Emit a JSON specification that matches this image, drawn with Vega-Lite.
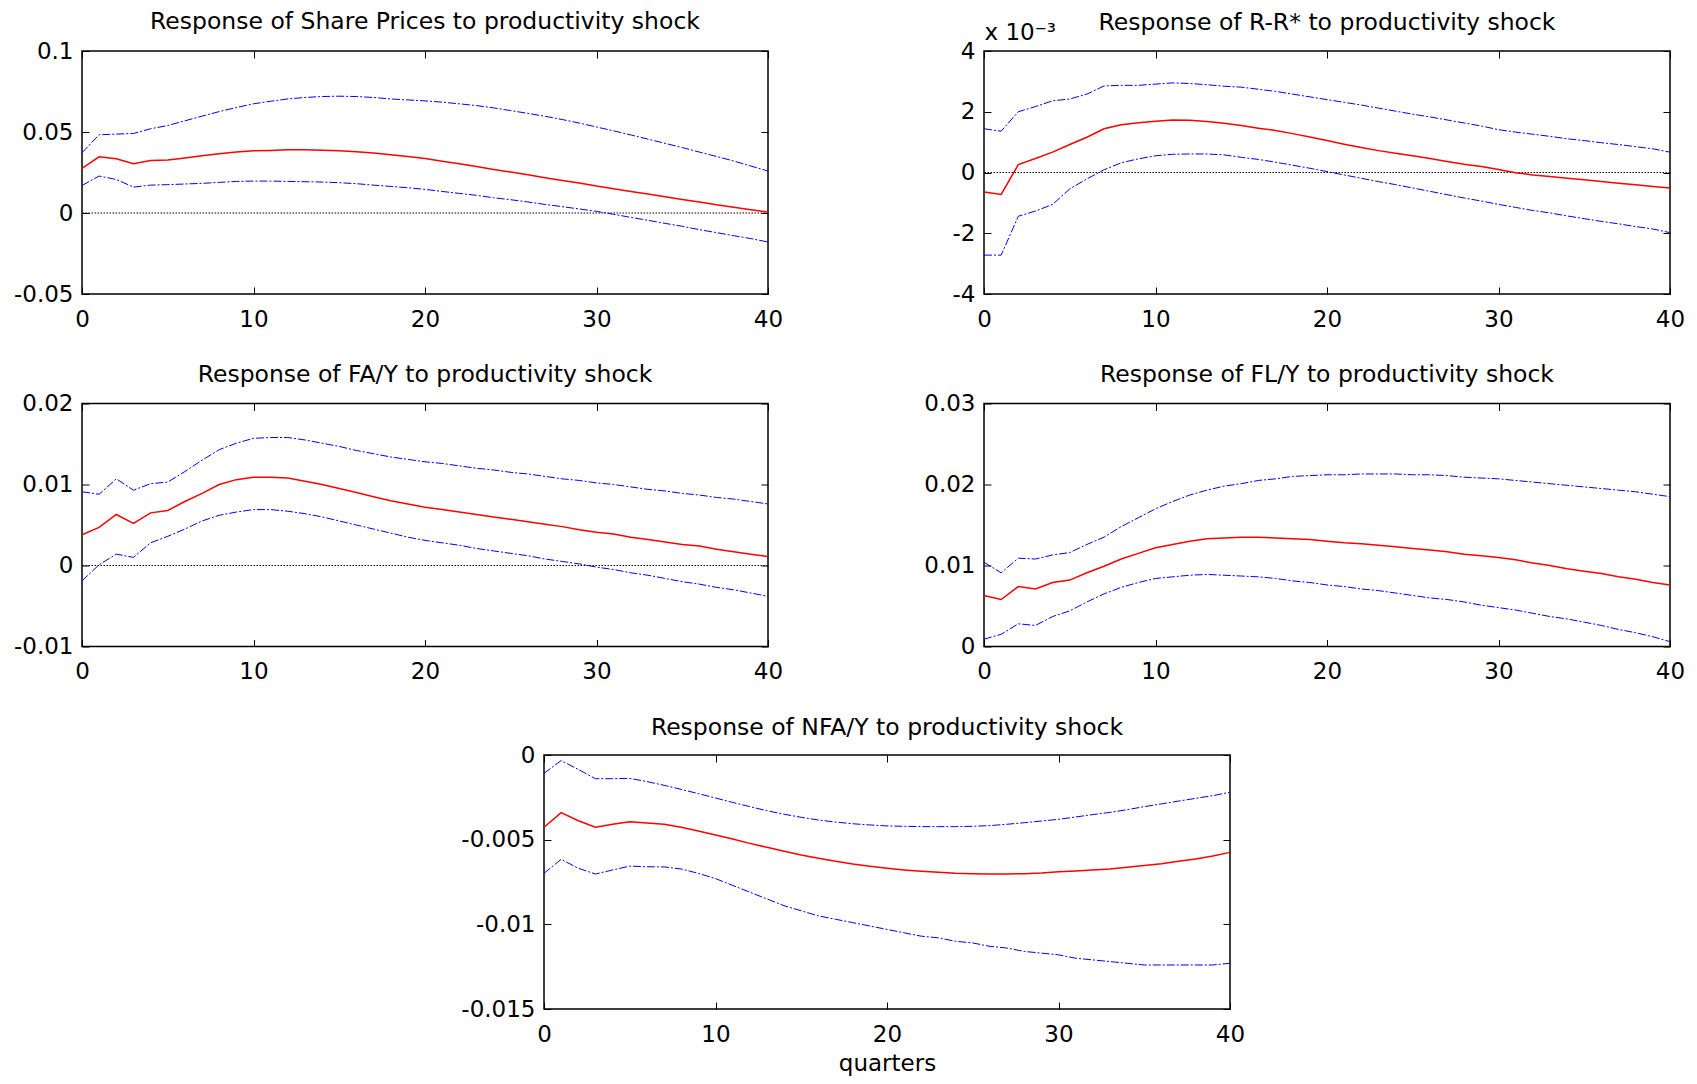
{
"$schema": "https://vega.github.io/schema/vega-lite/v6.json",
"background": "white",
"padding": {"left": 12, "top": 9, "right": 5, "bottom": 5},
"config": {
  "font": "DejaVu Sans",
  "view": {"stroke": "black", "strokeWidth": 1.5},
  "axis": {"domain": false, "grid": false, "tickColor": "black", "tickSize": -7, "tickWidth": 1, "labelFont": "DejaVu Sans", "labelFontSize": 23, "labelColor": "black", "labelFlush": false, "labelOverlap": false, "titleFont": "DejaVu Sans", "titleFontSize": 23, "titleFontWeight": "normal", "titleColor": "black"},
  "axisX": {"labelPadding": 21},
  "axisY": {"labelPadding": 16},
  "title": {"font": "DejaVu Sans", "fontSize": 23.5, "fontWeight": "normal", "color": "black", "offset": 6.5, "baseline": "alphabetic", "frame": "group"}
},
"data": {"values": [
{"p":1,"x":0,"lo":0.0170,"mid":0.0275,"hi":0.0372},
{"p":1,"x":1,"lo":0.0228,"mid":0.0347,"hi":0.0483},
{"p":1,"x":2,"lo":0.0207,"mid":0.0335,"hi":0.0487},
{"p":1,"x":3,"lo":0.0160,"mid":0.0304,"hi":0.0491},
{"p":1,"x":4,"lo":0.0172,"mid":0.0324,"hi":0.0520},
{"p":1,"x":5,"lo":0.0175,"mid":0.0327,"hi":0.0540},
{"p":1,"x":6,"lo":0.0179,"mid":0.0339,"hi":0.0569},
{"p":1,"x":7,"lo":0.0183,"mid":0.0353,"hi":0.0598},
{"p":1,"x":8,"lo":0.0189,"mid":0.0366,"hi":0.0626},
{"p":1,"x":9,"lo":0.0195,"mid":0.0376,"hi":0.0651},
{"p":1,"x":10,"lo":0.0197,"mid":0.0384,"hi":0.0674},
{"p":1,"x":11,"lo":0.0197,"mid":0.0386,"hi":0.0690},
{"p":1,"x":12,"lo":0.0195,"mid":0.0390,"hi":0.0704},
{"p":1,"x":13,"lo":0.0193,"mid":0.0390,"hi":0.0713},
{"p":1,"x":14,"lo":0.0191,"mid":0.0388,"hi":0.0719},
{"p":1,"x":15,"lo":0.0187,"mid":0.0384,"hi":0.0721},
{"p":1,"x":16,"lo":0.0181,"mid":0.0378,"hi":0.0719},
{"p":1,"x":17,"lo":0.0172,"mid":0.0370,"hi":0.0713},
{"p":1,"x":18,"lo":0.0164,"mid":0.0359,"hi":0.0704},
{"p":1,"x":19,"lo":0.0156,"mid":0.0349,"hi":0.0698},
{"p":1,"x":20,"lo":0.0146,"mid":0.0337,"hi":0.0692},
{"p":1,"x":21,"lo":0.0133,"mid":0.0320,"hi":0.0684},
{"p":1,"x":22,"lo":0.0121,"mid":0.0304,"hi":0.0674},
{"p":1,"x":23,"lo":0.0109,"mid":0.0287,"hi":0.0663},
{"p":1,"x":24,"lo":0.0094,"mid":0.0269,"hi":0.0649},
{"p":1,"x":25,"lo":0.0082,"mid":0.0253,"hi":0.0632},
{"p":1,"x":26,"lo":0.0068,"mid":0.0236,"hi":0.0615},
{"p":1,"x":27,"lo":0.0053,"mid":0.0218,"hi":0.0597},
{"p":1,"x":28,"lo":0.0039,"mid":0.0201,"hi":0.0577},
{"p":1,"x":29,"lo":0.0025,"mid":0.0185,"hi":0.0555},
{"p":1,"x":30,"lo":0.0010,"mid":0.0166,"hi":0.0531},
{"p":1,"x":31,"lo":-0.0008,"mid":0.0150,"hi":0.0507},
{"p":1,"x":32,"lo":-0.0027,"mid":0.0133,"hi":0.0482},
{"p":1,"x":33,"lo":-0.0045,"mid":0.0117,"hi":0.0456},
{"p":1,"x":34,"lo":-0.0064,"mid":0.0100,"hi":0.0430},
{"p":1,"x":35,"lo":-0.0082,"mid":0.0084,"hi":0.0404},
{"p":1,"x":36,"lo":-0.0103,"mid":0.0068,"hi":0.0376},
{"p":1,"x":37,"lo":-0.0121,"mid":0.0051,"hi":0.0349},
{"p":1,"x":38,"lo":-0.0140,"mid":0.0035,"hi":0.0321},
{"p":1,"x":39,"lo":-0.0158,"mid":0.0020,"hi":0.0290},
{"p":1,"x":40,"lo":-0.0179,"mid":0.0006,"hi":0.0259},
{"p":2,"x":0,"lo":-2.72,"mid":-0.64,"hi":1.44},
{"p":2,"x":1,"lo":-2.72,"mid":-0.72,"hi":1.36},
{"p":2,"x":2,"lo":-1.44,"mid":0.26,"hi":2.00},
{"p":2,"x":3,"lo":-1.27,"mid":0.46,"hi":2.17},
{"p":2,"x":4,"lo":-1.05,"mid":0.67,"hi":2.36},
{"p":2,"x":5,"lo":-0.54,"mid":0.92,"hi":2.42},
{"p":2,"x":6,"lo":-0.21,"mid":1.16,"hi":2.58},
{"p":2,"x":7,"lo":0.09,"mid":1.44,"hi":2.85},
{"p":2,"x":8,"lo":0.32,"mid":1.57,"hi":2.87},
{"p":2,"x":9,"lo":0.45,"mid":1.64,"hi":2.87},
{"p":2,"x":10,"lo":0.55,"mid":1.69,"hi":2.91},
{"p":2,"x":11,"lo":0.60,"mid":1.73,"hi":2.95},
{"p":2,"x":12,"lo":0.61,"mid":1.72,"hi":2.93},
{"p":2,"x":13,"lo":0.61,"mid":1.68,"hi":2.89},
{"p":2,"x":14,"lo":0.58,"mid":1.62,"hi":2.84},
{"p":2,"x":15,"lo":0.50,"mid":1.55,"hi":2.81},
{"p":2,"x":16,"lo":0.43,"mid":1.46,"hi":2.74},
{"p":2,"x":17,"lo":0.34,"mid":1.38,"hi":2.67},
{"p":2,"x":18,"lo":0.24,"mid":1.28,"hi":2.58},
{"p":2,"x":19,"lo":0.14,"mid":1.17,"hi":2.49},
{"p":2,"x":20,"lo":0.03,"mid":1.05,"hi":2.40},
{"p":2,"x":21,"lo":-0.08,"mid":0.93,"hi":2.31},
{"p":2,"x":22,"lo":-0.19,"mid":0.82,"hi":2.22},
{"p":2,"x":23,"lo":-0.30,"mid":0.72,"hi":2.12},
{"p":2,"x":24,"lo":-0.40,"mid":0.63,"hi":2.02},
{"p":2,"x":25,"lo":-0.51,"mid":0.55,"hi":1.92},
{"p":2,"x":26,"lo":-0.62,"mid":0.46,"hi":1.83},
{"p":2,"x":27,"lo":-0.73,"mid":0.36,"hi":1.73},
{"p":2,"x":28,"lo":-0.84,"mid":0.27,"hi":1.63},
{"p":2,"x":29,"lo":-0.94,"mid":0.20,"hi":1.53},
{"p":2,"x":30,"lo":-1.05,"mid":0.10,"hi":1.41},
{"p":2,"x":31,"lo":-1.15,"mid":-0.01,"hi":1.33},
{"p":2,"x":32,"lo":-1.25,"mid":-0.08,"hi":1.26},
{"p":2,"x":33,"lo":-1.33,"mid":-0.13,"hi":1.19},
{"p":2,"x":34,"lo":-1.43,"mid":-0.19,"hi":1.11},
{"p":2,"x":35,"lo":-1.52,"mid":-0.24,"hi":1.05},
{"p":2,"x":36,"lo":-1.61,"mid":-0.30,"hi":0.98},
{"p":2,"x":37,"lo":-1.69,"mid":-0.35,"hi":0.92},
{"p":2,"x":38,"lo":-1.78,"mid":-0.40,"hi":0.85},
{"p":2,"x":39,"lo":-1.86,"mid":-0.46,"hi":0.78},
{"p":2,"x":40,"lo":-1.98,"mid":-0.51,"hi":0.67},
{"p":3,"x":0,"lo":-0.0019,"mid":0.0038,"hi":0.0091},
{"p":3,"x":1,"lo":0.0001,"mid":0.0047,"hi":0.0088},
{"p":3,"x":2,"lo":0.0014,"mid":0.0063,"hi":0.0107},
{"p":3,"x":3,"lo":0.0010,"mid":0.0052,"hi":0.0093},
{"p":3,"x":4,"lo":0.0028,"mid":0.0065,"hi":0.0101},
{"p":3,"x":5,"lo":0.0036,"mid":0.0068,"hi":0.0103},
{"p":3,"x":6,"lo":0.0045,"mid":0.0079,"hi":0.0116},
{"p":3,"x":7,"lo":0.0055,"mid":0.0089,"hi":0.0130},
{"p":3,"x":8,"lo":0.0062,"mid":0.0100,"hi":0.0143},
{"p":3,"x":9,"lo":0.0066,"mid":0.0106,"hi":0.0151},
{"p":3,"x":10,"lo":0.0069,"mid":0.0109,"hi":0.0157},
{"p":3,"x":11,"lo":0.0069,"mid":0.0109,"hi":0.0158},
{"p":3,"x":12,"lo":0.0067,"mid":0.0108,"hi":0.0158},
{"p":3,"x":13,"lo":0.0064,"mid":0.0104,"hi":0.0155},
{"p":3,"x":14,"lo":0.0060,"mid":0.0100,"hi":0.0151},
{"p":3,"x":15,"lo":0.0055,"mid":0.0095,"hi":0.0147},
{"p":3,"x":16,"lo":0.0050,"mid":0.0090,"hi":0.0142},
{"p":3,"x":17,"lo":0.0045,"mid":0.0085,"hi":0.0138},
{"p":3,"x":18,"lo":0.0040,"mid":0.0080,"hi":0.0134},
{"p":3,"x":19,"lo":0.0035,"mid":0.0076,"hi":0.0131},
{"p":3,"x":20,"lo":0.0031,"mid":0.0072,"hi":0.0128},
{"p":3,"x":21,"lo":0.0028,"mid":0.0069,"hi":0.0126},
{"p":3,"x":22,"lo":0.0025,"mid":0.0066,"hi":0.0123},
{"p":3,"x":23,"lo":0.0021,"mid":0.0063,"hi":0.0120},
{"p":3,"x":24,"lo":0.0018,"mid":0.0060,"hi":0.0118},
{"p":3,"x":25,"lo":0.0015,"mid":0.0057,"hi":0.0115},
{"p":3,"x":26,"lo":0.0012,"mid":0.0054,"hi":0.0113},
{"p":3,"x":27,"lo":0.0008,"mid":0.0051,"hi":0.0110},
{"p":3,"x":28,"lo":0.0005,"mid":0.0048,"hi":0.0107},
{"p":3,"x":29,"lo":0.0002,"mid":0.0044,"hi":0.0105},
{"p":3,"x":30,"lo":-0.0002,"mid":0.0041,"hi":0.0102},
{"p":3,"x":31,"lo":-0.0005,"mid":0.0039,"hi":0.0100},
{"p":3,"x":32,"lo":-0.0009,"mid":0.0035,"hi":0.0097},
{"p":3,"x":33,"lo":-0.0012,"mid":0.0032,"hi":0.0094},
{"p":3,"x":34,"lo":-0.0016,"mid":0.0029,"hi":0.0092},
{"p":3,"x":35,"lo":-0.0020,"mid":0.0026,"hi":0.0089},
{"p":3,"x":36,"lo":-0.0023,"mid":0.0024,"hi":0.0087},
{"p":3,"x":37,"lo":-0.0027,"mid":0.0020,"hi":0.0084},
{"p":3,"x":38,"lo":-0.0030,"mid":0.0017,"hi":0.0082},
{"p":3,"x":39,"lo":-0.0034,"mid":0.0014,"hi":0.0079},
{"p":3,"x":40,"lo":-0.0038,"mid":0.0011,"hi":0.0076},
{"p":4,"x":0,"lo":0.0009,"mid":0.0063,"hi":0.0104},
{"p":4,"x":1,"lo":0.0015,"mid":0.0058,"hi":0.0091},
{"p":4,"x":2,"lo":0.0028,"mid":0.0074,"hi":0.0109},
{"p":4,"x":3,"lo":0.0026,"mid":0.0071,"hi":0.0108},
{"p":4,"x":4,"lo":0.0037,"mid":0.0079,"hi":0.0113},
{"p":4,"x":5,"lo":0.0044,"mid":0.0082,"hi":0.0116},
{"p":4,"x":6,"lo":0.0055,"mid":0.0091,"hi":0.0126},
{"p":4,"x":7,"lo":0.0065,"mid":0.0099,"hi":0.0135},
{"p":4,"x":8,"lo":0.0073,"mid":0.0108,"hi":0.0148},
{"p":4,"x":9,"lo":0.0079,"mid":0.0115,"hi":0.0159},
{"p":4,"x":10,"lo":0.0084,"mid":0.0122,"hi":0.0170},
{"p":4,"x":11,"lo":0.0086,"mid":0.0126,"hi":0.0179},
{"p":4,"x":12,"lo":0.0088,"mid":0.0130,"hi":0.0187},
{"p":4,"x":13,"lo":0.0089,"mid":0.0133,"hi":0.0193},
{"p":4,"x":14,"lo":0.0088,"mid":0.0134,"hi":0.0198},
{"p":4,"x":15,"lo":0.0087,"mid":0.0135,"hi":0.0201},
{"p":4,"x":16,"lo":0.0086,"mid":0.0135,"hi":0.0205},
{"p":4,"x":17,"lo":0.0084,"mid":0.0134,"hi":0.0207},
{"p":4,"x":18,"lo":0.0081,"mid":0.0133,"hi":0.0210},
{"p":4,"x":19,"lo":0.0079,"mid":0.0132,"hi":0.0211},
{"p":4,"x":20,"lo":0.0076,"mid":0.0130,"hi":0.0212},
{"p":4,"x":21,"lo":0.0074,"mid":0.0128,"hi":0.0212},
{"p":4,"x":22,"lo":0.0071,"mid":0.0127,"hi":0.0213},
{"p":4,"x":23,"lo":0.0069,"mid":0.0125,"hi":0.0213},
{"p":4,"x":24,"lo":0.0066,"mid":0.0123,"hi":0.0213},
{"p":4,"x":25,"lo":0.0063,"mid":0.0121,"hi":0.0212},
{"p":4,"x":26,"lo":0.0060,"mid":0.0119,"hi":0.0212},
{"p":4,"x":27,"lo":0.0058,"mid":0.0117,"hi":0.0211},
{"p":4,"x":28,"lo":0.0055,"mid":0.0114,"hi":0.0209},
{"p":4,"x":29,"lo":0.0051,"mid":0.0112,"hi":0.0208},
{"p":4,"x":30,"lo":0.0048,"mid":0.0110,"hi":0.0207},
{"p":4,"x":31,"lo":0.0045,"mid":0.0107,"hi":0.0205},
{"p":4,"x":32,"lo":0.0041,"mid":0.0103,"hi":0.0203},
{"p":4,"x":33,"lo":0.0037,"mid":0.0100,"hi":0.0201},
{"p":4,"x":34,"lo":0.0034,"mid":0.0096,"hi":0.0199},
{"p":4,"x":35,"lo":0.0030,"mid":0.0093,"hi":0.0197},
{"p":4,"x":36,"lo":0.0026,"mid":0.0090,"hi":0.0195},
{"p":4,"x":37,"lo":0.0021,"mid":0.0086,"hi":0.0193},
{"p":4,"x":38,"lo":0.0017,"mid":0.0083,"hi":0.0191},
{"p":4,"x":39,"lo":0.0012,"mid":0.0079,"hi":0.0188},
{"p":4,"x":40,"lo":0.0006,"mid":0.0076,"hi":0.0185},
{"p":5,"x":0,"lo":-0.00699,"mid":-0.00427,"hi":-0.00108},
{"p":5,"x":1,"lo":-0.00616,"mid":-0.00340,"hi":-0.00033},
{"p":5,"x":2,"lo":-0.00669,"mid":-0.00388,"hi":-0.00085},
{"p":5,"x":3,"lo":-0.00703,"mid":-0.00427,"hi":-0.00140},
{"p":5,"x":4,"lo":-0.00679,"mid":-0.00409,"hi":-0.00140},
{"p":5,"x":5,"lo":-0.00656,"mid":-0.00394,"hi":-0.00138},
{"p":5,"x":6,"lo":-0.00660,"mid":-0.00402,"hi":-0.00157},
{"p":5,"x":7,"lo":-0.00661,"mid":-0.00409,"hi":-0.00179},
{"p":5,"x":8,"lo":-0.00673,"mid":-0.00427,"hi":-0.00203},
{"p":5,"x":9,"lo":-0.00699,"mid":-0.00449,"hi":-0.00228},
{"p":5,"x":10,"lo":-0.00730,"mid":-0.00472,"hi":-0.00254},
{"p":5,"x":11,"lo":-0.00770,"mid":-0.00496,"hi":-0.00280},
{"p":5,"x":12,"lo":-0.00810,"mid":-0.00522,"hi":-0.00305},
{"p":5,"x":13,"lo":-0.00850,"mid":-0.00545,"hi":-0.00329},
{"p":5,"x":14,"lo":-0.00890,"mid":-0.00569,"hi":-0.00350},
{"p":5,"x":15,"lo":-0.00920,"mid":-0.00591,"hi":-0.00368},
{"p":5,"x":16,"lo":-0.00950,"mid":-0.00610,"hi":-0.00384},
{"p":5,"x":17,"lo":-0.00970,"mid":-0.00628,"hi":-0.00396},
{"p":5,"x":18,"lo":-0.00990,"mid":-0.00644,"hi":-0.00406},
{"p":5,"x":19,"lo":-0.01010,"mid":-0.00657,"hi":-0.00413},
{"p":5,"x":20,"lo":-0.01030,"mid":-0.00669,"hi":-0.00419},
{"p":5,"x":21,"lo":-0.01050,"mid":-0.00679,"hi":-0.00421},
{"p":5,"x":22,"lo":-0.01070,"mid":-0.00687,"hi":-0.00423},
{"p":5,"x":23,"lo":-0.01080,"mid":-0.00693,"hi":-0.00423},
{"p":5,"x":24,"lo":-0.01100,"mid":-0.00699,"hi":-0.00423},
{"p":5,"x":25,"lo":-0.01110,"mid":-0.00701,"hi":-0.00421},
{"p":5,"x":26,"lo":-0.01130,"mid":-0.00703,"hi":-0.00417},
{"p":5,"x":27,"lo":-0.01140,"mid":-0.00703,"hi":-0.00409},
{"p":5,"x":28,"lo":-0.01160,"mid":-0.00701,"hi":-0.00400},
{"p":5,"x":29,"lo":-0.01170,"mid":-0.00697,"hi":-0.00390},
{"p":5,"x":30,"lo":-0.01180,"mid":-0.00689,"hi":-0.00380},
{"p":5,"x":31,"lo":-0.01200,"mid":-0.00685,"hi":-0.00366},
{"p":5,"x":32,"lo":-0.01210,"mid":-0.00679,"hi":-0.00352},
{"p":5,"x":33,"lo":-0.01220,"mid":-0.00673,"hi":-0.00339},
{"p":5,"x":34,"lo":-0.01230,"mid":-0.00663,"hi":-0.00323},
{"p":5,"x":35,"lo":-0.01240,"mid":-0.00653,"hi":-0.00305},
{"p":5,"x":36,"lo":-0.01240,"mid":-0.00642,"hi":-0.00289},
{"p":5,"x":37,"lo":-0.01240,"mid":-0.00628,"hi":-0.00272},
{"p":5,"x":38,"lo":-0.01240,"mid":-0.00614,"hi":-0.00256},
{"p":5,"x":39,"lo":-0.01240,"mid":-0.00596,"hi":-0.00240},
{"p":5,"x":40,"lo":-0.01230,"mid":-0.00575,"hi":-0.00220}
]},
"spacing": 29.5,
"vconcat": [
{"hconcat": [
{
 "width": 686, "height": 243,
 "title": {"text": "Response of Share Prices to productivity shock"},
 "layer": [
  {"data": {"values": [{}]}, "mark": {"type": "rule", "color": "black", "strokeDash": [1.5, 1.5], "strokeWidth": 1},
   "encoding": {"y": {"datum": 0, "type": "quantitative", "scale": {"domain": [-0.05, 0.1], "nice": false, "zero": false}, "axis": null}}},
  {"transform": [{"filter": "datum.p == 1"}], "mark": {"type": "line", "color": "#0000ff", "strokeWidth": 1, "strokeDash": [8, 2, 2, 2]},
   "encoding": {"x": {"field": "x", "type": "quantitative", "scale": {"domain": [0, 40], "nice": false, "zero": false}, "axis": {"orient": "bottom", "values": [0, 10, 20, 30, 40], "title": null}},
    "y": {"field": "lo", "type": "quantitative", "scale": {"domain": [-0.05, 0.1], "nice": false, "zero": false}, "axis": {"orient": "left", "values": [-0.05, 0, 0.05, 0.1], "title": null, "labelExpr": "'' + datum.value"}}}},
  {"transform": [{"filter": "datum.p == 1"}], "mark": {"type": "line", "color": "#0000ff", "strokeWidth": 1, "strokeDash": [8, 2, 2, 2]},
   "encoding": {"x": {"field": "x", "type": "quantitative", "axis": null}, "y": {"field": "hi", "type": "quantitative", "axis": null}}},
  {"transform": [{"filter": "datum.p == 1"}], "mark": {"type": "line", "color": "#ff0000", "strokeWidth": 1.5},
   "encoding": {"x": {"field": "x", "type": "quantitative", "axis": {"orient": "top", "values": [0, 10, 20, 30, 40], "labels": false, "title": null}},
    "y": {"field": "mid", "type": "quantitative", "axis": {"orient": "right", "values": [-0.05, 0, 0.05, 0.1], "labels": false, "title": null}}}}
 ],
 "resolve": {"axis": {"x": "independent", "y": "independent"}}
},
{
 "width": 686, "height": 243,
 "title": {"text": "Response of R-R* to productivity shock", "offset": -13},
 "layer": [
  {"data": {"values": [{}]}, "mark": {"type": "rule", "color": "black", "strokeDash": [1.5, 1.5], "strokeWidth": 1},
   "encoding": {"y": {"datum": 0, "type": "quantitative", "scale": {"domain": [-4, 4], "nice": false, "zero": false}, "axis": null}}},
  {"transform": [{"filter": "datum.p == 2"}], "mark": {"type": "line", "color": "#0000ff", "strokeWidth": 1, "strokeDash": [8, 2, 2, 2]},
   "encoding": {"x": {"field": "x", "type": "quantitative", "scale": {"domain": [0, 40], "nice": false, "zero": false}, "axis": {"orient": "bottom", "values": [0, 10, 20, 30, 40], "title": null}},
    "y": {"field": "lo", "type": "quantitative", "scale": {"domain": [-4, 4], "nice": false, "zero": false}, "axis": {"orient": "left", "values": [-4, -2, 0, 2, 4], "labelExpr": "'' + datum.value", "title": "x 10⁻³", "titleAngle": 0, "titleAlign": "left", "titleBaseline": "alphabetic", "titleX": 0, "titleY": -12}}}},
  {"transform": [{"filter": "datum.p == 2"}], "mark": {"type": "line", "color": "#0000ff", "strokeWidth": 1, "strokeDash": [8, 2, 2, 2]},
   "encoding": {"x": {"field": "x", "type": "quantitative", "axis": null}, "y": {"field": "hi", "type": "quantitative", "axis": null}}},
  {"transform": [{"filter": "datum.p == 2"}], "mark": {"type": "line", "color": "#ff0000", "strokeWidth": 1.5},
   "encoding": {"x": {"field": "x", "type": "quantitative", "axis": {"orient": "top", "values": [0, 10, 20, 30, 40], "labels": false, "title": null}},
    "y": {"field": "mid", "type": "quantitative", "axis": {"orient": "right", "values": [-4, -2, 0, 2, 4], "labels": false, "title": null}}}}
 ],
 "resolve": {"axis": {"x": "independent", "y": "independent"}}
}
], "spacing": 216, "bounds": "flush"},
{"hconcat": [
{
 "width": 686, "height": 243,
 "title": {"text": "Response of FA/Y to productivity shock"},
 "layer": [
  {"data": {"values": [{}]}, "mark": {"type": "rule", "color": "black", "strokeDash": [1.5, 1.5], "strokeWidth": 1},
   "encoding": {"y": {"datum": 0, "type": "quantitative", "scale": {"domain": [-0.01, 0.02], "nice": false, "zero": false}, "axis": null}}},
  {"transform": [{"filter": "datum.p == 3"}], "mark": {"type": "line", "color": "#0000ff", "strokeWidth": 1, "strokeDash": [8, 2, 2, 2]},
   "encoding": {"x": {"field": "x", "type": "quantitative", "scale": {"domain": [0, 40], "nice": false, "zero": false}, "axis": {"orient": "bottom", "values": [0, 10, 20, 30, 40], "title": null}},
    "y": {"field": "lo", "type": "quantitative", "scale": {"domain": [-0.01, 0.02], "nice": false, "zero": false}, "axis": {"orient": "left", "values": [-0.01, 0, 0.01, 0.02], "title": null, "labelExpr": "'' + datum.value"}}}},
  {"transform": [{"filter": "datum.p == 3"}], "mark": {"type": "line", "color": "#0000ff", "strokeWidth": 1, "strokeDash": [8, 2, 2, 2]},
   "encoding": {"x": {"field": "x", "type": "quantitative", "axis": null}, "y": {"field": "hi", "type": "quantitative", "axis": null}}},
  {"transform": [{"filter": "datum.p == 3"}], "mark": {"type": "line", "color": "#ff0000", "strokeWidth": 1.5},
   "encoding": {"x": {"field": "x", "type": "quantitative", "axis": {"orient": "top", "values": [0, 10, 20, 30, 40], "labels": false, "title": null}},
    "y": {"field": "mid", "type": "quantitative", "axis": {"orient": "right", "values": [-0.01, 0, 0.01, 0.02], "labels": false, "title": null}}}}
 ],
 "resolve": {"axis": {"x": "independent", "y": "independent"}}
},
{
 "width": 686, "height": 243,
 "title": {"text": "Response of FL/Y to productivity shock"},
 "layer": [
  {"transform": [{"filter": "datum.p == 4"}], "mark": {"type": "line", "color": "#0000ff", "strokeWidth": 1, "strokeDash": [8, 2, 2, 2]},
   "encoding": {"x": {"field": "x", "type": "quantitative", "scale": {"domain": [0, 40], "nice": false, "zero": false}, "axis": {"orient": "bottom", "values": [0, 10, 20, 30, 40], "title": null}},
    "y": {"field": "lo", "type": "quantitative", "scale": {"domain": [0, 0.03], "nice": false, "zero": false}, "axis": {"orient": "left", "values": [0, 0.01, 0.02, 0.03], "title": null, "labelExpr": "'' + datum.value"}}}},
  {"transform": [{"filter": "datum.p == 4"}], "mark": {"type": "line", "color": "#0000ff", "strokeWidth": 1, "strokeDash": [8, 2, 2, 2]},
   "encoding": {"x": {"field": "x", "type": "quantitative", "axis": null}, "y": {"field": "hi", "type": "quantitative", "axis": null}}},
  {"transform": [{"filter": "datum.p == 4"}], "mark": {"type": "line", "color": "#ff0000", "strokeWidth": 1.5},
   "encoding": {"x": {"field": "x", "type": "quantitative", "axis": {"orient": "top", "values": [0, 10, 20, 30, 40], "labels": false, "title": null}},
    "y": {"field": "mid", "type": "quantitative", "axis": {"orient": "right", "values": [0, 0.01, 0.02, 0.03], "labels": false, "title": null}}}}
 ],
 "resolve": {"axis": {"x": "independent", "y": "independent"}}
}
], "spacing": 216, "bounds": "flush"},
{"hconcat": [
{
 "width": 462, "height": 10,
 "data": {"values": []},
 "mark": "point",
 "view": {"stroke": null}
},
{
 "width": 686, "height": 254,
 "title": {"text": "Response of NFA/Y to productivity shock", "offset": 5},
 "layer": [
  {"transform": [{"filter": "datum.p == 5"}], "mark": {"type": "line", "color": "#0000ff", "strokeWidth": 1, "strokeDash": [8, 2, 2, 2]},
   "encoding": {"x": {"field": "x", "type": "quantitative", "scale": {"domain": [0, 40], "nice": false, "zero": false}, "axis": {"orient": "bottom", "values": [0, 10, 20, 30, 40], "title": "quarters", "titlePadding": 6}},
    "y": {"field": "lo", "type": "quantitative", "scale": {"domain": [-0.015, 0], "nice": false, "zero": false}, "axis": {"orient": "left", "values": [-0.015, -0.01, -0.005, 0], "title": null, "labelExpr": "'' + datum.value"}}}},
  {"transform": [{"filter": "datum.p == 5"}], "mark": {"type": "line", "color": "#0000ff", "strokeWidth": 1, "strokeDash": [8, 2, 2, 2]},
   "encoding": {"x": {"field": "x", "type": "quantitative", "axis": null}, "y": {"field": "hi", "type": "quantitative", "axis": null}}},
  {"transform": [{"filter": "datum.p == 5"}], "mark": {"type": "line", "color": "#ff0000", "strokeWidth": 1.5},
   "encoding": {"x": {"field": "x", "type": "quantitative", "axis": {"orient": "top", "values": [0, 10, 20, 30, 40], "labels": false, "title": null}},
    "y": {"field": "mid", "type": "quantitative", "axis": {"orient": "right", "values": [-0.015, -0.01, -0.005, 0], "labels": false, "title": null}}}}
 ],
 "resolve": {"axis": {"x": "independent", "y": "independent"}}
}
], "spacing": 0, "bounds": "flush"}
]
}
